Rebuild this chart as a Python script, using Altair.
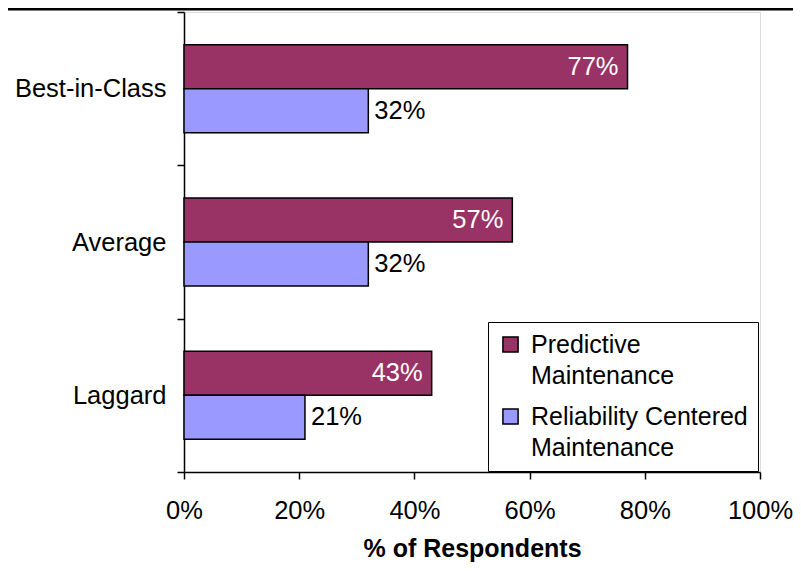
import altair as alt
import pandas as pd

categories = ["Best-in-Class", "Average", "Laggard"]
series_names = ["Predictive Maintenance", "Reliability Centered Maintenance"]
predictive = [77, 57, 43]
reliability = [32, 32, 21]
x_ticks = [0, 20, 40, 60, 80, 100]
colors = ["#993366", "#9999FF"]

rows = []
for c, p, r in zip(categories, predictive, reliability):
    rows.append({"cat": c, "series": series_names[0], "val": p, "lab": f"{p}%"})
    rows.append({"cat": c, "series": series_names[1], "val": r, "lab": f"{r}%"})
df = pd.DataFrame(rows)

FONT = "Liberation Sans"
FS = 25.5

y_enc = alt.Y("cat:N", sort=categories, title=None,
              scale=alt.Scale(paddingInner=0, paddingOuter=0),
              axis=alt.Axis(tickBand="extent", domainColor="black", tickColor="black",
                            domainWidth=1.5, tickWidth=1.5, tickSize=7, labelPadding=11,
                            labelFontSize=FS, labelFont=FONT, labelColor="black",
                            labelFontWeight="normal"))
x_enc = alt.X("val:Q", title="% of Respondents",
              scale=alt.Scale(domain=[0, 100], nice=False),
              axis=alt.Axis(values=x_ticks, labelExpr="datum.value + '%'", grid=False,
                            labelFlush=False, labelOverlap=False,
                            domainColor="black", tickColor="black", domainWidth=1.5,
                            tickWidth=1.5, tickSize=7, labelPadding=19,
                            labelFontSize=FS, labelFont=FONT, labelColor="black",
                            titleFontSize=FS - 0.5, titleFont=FONT, titleFontWeight="bold",
                            titleColor="black", titlePadding=13))
yoff = alt.YOffset("series:N", sort=series_names,
                   scale=alt.Scale(paddingInner=0, paddingOuter=0.742))

bars = alt.Chart(df).mark_bar(stroke="black", strokeWidth=1.5).encode(
    y=y_enc, x=x_enc, yOffset=yoff,
    color=alt.Color("series:N", sort=series_names,
                    scale=alt.Scale(domain=series_names, range=colors),
                    legend=alt.Legend(
                        title=None, orient="none", legendX=304, legendY=310,
                        strokeColor="black", fillColor="white", padding=10,
                        symbolType="square", symbolSize=230, symbolStrokeColor="black",
                        symbolStrokeWidth=1.5, symbolOffset=0,
                        labelFontSize=FS - 0.5, labelFont=FONT, labelOffset=8,
                        labelColor="black", labelLimit=400, rowPadding=15,
                        labelExpr="datum.label == 'Predictive Maintenance' ? ['Predictive', 'Maintenance'] : ['Reliability Centered', 'Maintenance']",
                    )),
)

lab_pm = alt.Chart(df[df.series == series_names[0]]).mark_text(
    align="right", dx=-9, color="white", fontSize=FS, font=FONT, baseline="middle"
).encode(y=alt.Y("cat:N", sort=categories), x="val:Q", yOffset=yoff, text="lab:N")

lab_rcm = alt.Chart(df[df.series == series_names[1]]).mark_text(
    align="left", dx=6, color="black", fontSize=FS, font=FONT, baseline="middle"
).encode(y=alt.Y("cat:N", sort=categories), x="val:Q", yOffset=yoff, text="lab:N")

top_line = alt.Chart(pd.DataFrame({"a": [0]})).mark_rule(color="black", strokeWidth=3).encode(
    x=alt.value(-176), x2=alt.value(609), y=alt.value(-3)
)

chart = alt.layer(bars, lab_pm, lab_rcm, top_line).properties(
    width=576, height=460,
    autosize=alt.AutoSizeParams(type="none"),
    padding={"left": 176, "top": 4, "right": 33, "bottom": 91},
).configure_view(stroke="#999999", strokeWidth=1.5).configure(
    background="white",
    style={"guide-label": {"lineHeight": 31}},
)

chart.save("out.html", embed_options={"renderer": "svg", "actions": False})
